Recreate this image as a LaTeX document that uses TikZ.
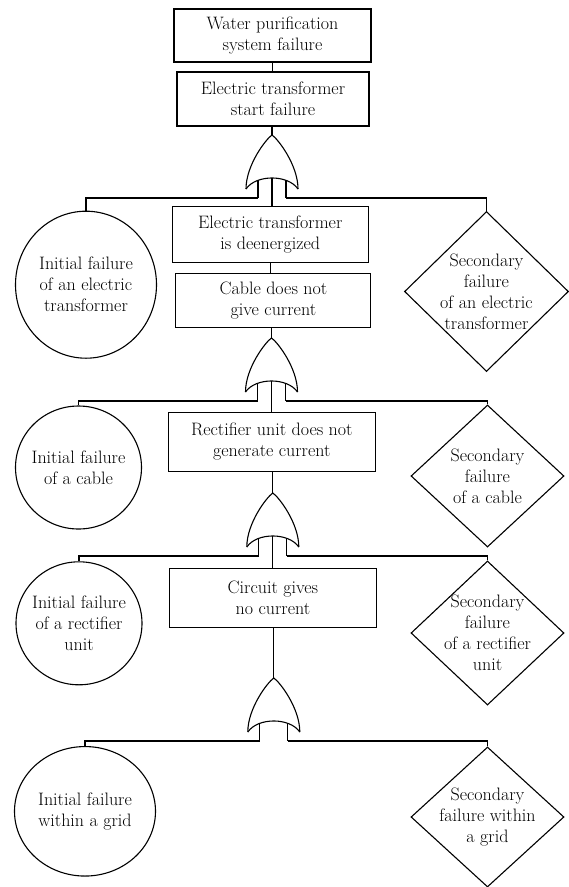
\documentclass[tikz,border=0pt]{standalone}
\usetikzlibrary{shapes.geometric}
\tikzset{
  every picture/.style={line width=1.1pt},
  box/.style={draw, rectangle, inner sep=0pt, align=center},
  ev/.style={draw, inner sep=0pt},
  circ/.style={ev, ellipse},
  diam/.style={ev, diamond},
  lab/.style={align=center, inner sep=0pt},
  pics/orgate/.style={code={
    \draw (-26,54) .. controls (-26,30) and (-6,4) .. (0,0)
          .. controls (6,4) and (26,30) .. (26,54);
    \draw (-26,54) .. controls (-16,39.3) and (16,39.3) .. (26,54);
    \coordinate (-top) at (0,0);
    \coordinate (-mid) at (0,43);
    \coordinate (-lt) at (-14,45.3);
    \coordinate (-rt) at (14,45.3);
    \coordinate (-l) at (-14,63);
    \coordinate (-r) at (14,63);
    \draw (-lt) -- (-l);
    \draw (-rt) -- (-r);
  }}
}
\begin{document}
\begin{tikzpicture}[x=1pt, y=-1pt, font=\fontsize{18}{21}\selectfont]
\useasboundingbox (0,0) rectangle (569,887);

% boxes
\node[box, minimum width=197, minimum height=53] (b1) at (272.5,35.5) {Water purification\\system failure};
\node[box, minimum width=192, minimum height=54] (b2) at (273,99) {Electric transformer\\start failure};
\node[box, minimum width=196, minimum height=55.6] (b3) at (270.3,234.5) {Electric transformer\\is deenergized};
\node[box, minimum width=195, minimum height=54.4] (b4) at (273.4,300.5) {Cable does not\\give current};
\node[box, minimum width=207.5, minimum height=59.4] (b5) at (271.8,442) {Rectifier unit does not\\generate current};
\node[box, minimum width=207, minimum height=59.7] (b6) at (272.9,598) {Circuit gives\\no current};

% basic events
\node[circ, minimum width=141, minimum height=147,
  label={[lab]center:{Initial failure\\of an electric\\transformer}}] (c1) at (86,284.7) {};
\node[circ, minimum width=126, minimum height=123,
  label={[lab]center:{Initial failure\\of a cable}}] (c2) at (78.5,467.5) {};
\node[circ, minimum width=126, minimum height=123,
  label={[lab]center:{Initial failure\\of a rectifier\\unit}}] (c3) at (79,623.3) {};
\node[circ, minimum width=141, minimum height=129.5,
  label={[lab]center:{Initial failure\\within a grid}}] (c4) at (85,811.3) {};

% undeveloped events
\node[diam, minimum width=164, minimum height=160,
  label={[lab]center:{Secondary\\failure\\of an electric\\transformer}}] (d1) at (486.5,291.5) {};
\node[diam, minimum width=153, minimum height=142,
  label={[lab]center:{Secondary\\failure\\of a cable}}] (d2) at (487.5,476) {};
\node[diam, minimum width=153, minimum height=144,
  label={[lab]center:{Secondary\\failure\\of a rectifier\\unit}}] (d3) at (487.5,633) {};
\node[diam, minimum width=153, minimum height=140,
  label={[lab]center:{Secondary\\failure within\\a grid}}] (d4) at (487.5,817) {};

% gates
\pic (g1) at (272,135) {orgate};
\pic (g2) at (271.5,338) {orgate};
\pic (g3) at (272.8,493) {orgate};
\pic (g4) at (273.8,678) {orgate};

% connectors
\draw (b1.south) -- (b1.south |- b2.north);
\draw (g1-top |- b2.south) -- (g1-top);
\draw (g1-mid) -- (g1-mid |- b3.north);
\draw (g1-l) -| (c1.north);
\draw (g1-r) -| (d1.north);

\draw (b3.south) -- (b3.south |- b4.north);
\draw (g2-top |- b4.south) -- (g2-top);
\draw (g2-mid) -- (g2-mid |- b5.north);
\draw (g2-l) -| (c2.north);
\draw (g2-r) -| (d2.north);

\draw (g3-top |- b5.south) -- (g3-top);
\draw (g3-mid) -- (g3-mid |- b6.north);
\draw (g3-l) -| (c3.north);
\draw (g3-r) -| (d3.north);

\draw (g4-top |- b6.south) -- (g4-top);
\draw (g4-l) -| (c4.north);
\draw (g4-r) -| (d4.north);
\end{tikzpicture}
\end{document}
